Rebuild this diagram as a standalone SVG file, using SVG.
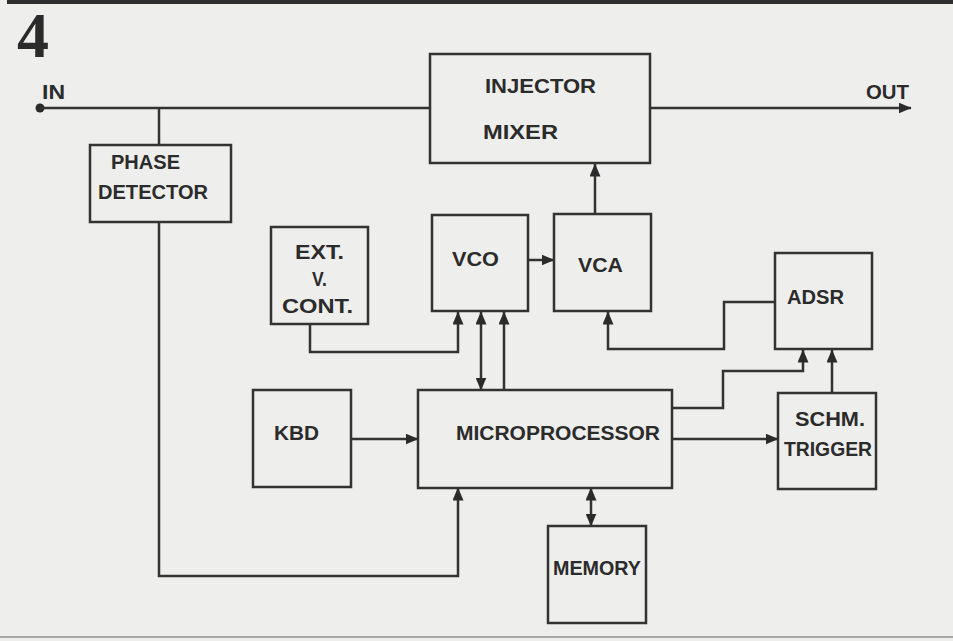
<svg xmlns="http://www.w3.org/2000/svg" width="953" height="641" viewBox="0 0 953 641">
<defs>
<style>
.box{fill:none;stroke:#333;stroke-width:2.5}
.ln{fill:none;stroke:#333;stroke-width:2.5}
.t{font-family:"Liberation Sans","DejaVu Sans",sans-serif;font-weight:bold;font-size:21px;fill:#2b2b2b}
</style>
<marker id="ah" viewBox="0 0 13 11" refX="12.5" refY="5.5" markerWidth="13" markerHeight="11" markerUnits="userSpaceOnUse" orient="auto-start-reverse">
<path d="M0,0 L13,5.5 L0,11 z" fill="#2b2b2b"/>
</marker>
</defs>
<rect width="953" height="641" fill="#eeeeec"/>
<rect x="7" y="0" width="946" height="4" fill="#2e2e2e"/>
<line x1="0" y1="637" x2="953" y2="637" stroke="#a9a9a9" stroke-width="2"/>
<text x="17" y="57" font-family="Liberation Serif,serif" font-weight="bold" font-size="64" fill="#2b2b2b">4</text>

<g id="connectors">
<circle cx="40" cy="108" r="4.5" fill="#2b2b2b"/>
<path class="ln" d="M40,108 H430"/>
<path class="ln" d="M159,108 V145"/>
<path class="ln" d="M159,222 V576 H458 V488" marker-end="url(#ah)"/>
<path class="ln" d="M650,108 H911" marker-end="url(#ah)"/>
<path class="ln" d="M595,214 V164" marker-end="url(#ah)"/>
<path class="ln" d="M528,260 H554" marker-end="url(#ah)"/>
<path class="ln" d="M310,324 V352 H458 V312" marker-end="url(#ah)"/>
<path class="ln" d="M481,312 V390" marker-start="url(#ah)" marker-end="url(#ah)"/>
<path class="ln" d="M504,390 V312" marker-end="url(#ah)"/>
<path class="ln" d="M775,302 H724 V349 H608 V312" marker-end="url(#ah)"/>
<path class="ln" d="M672,408 H723 V371 H803 V350" marker-end="url(#ah)"/>
<path class="ln" d="M832,393 V350" marker-end="url(#ah)"/>
<path class="ln" d="M672,439 H778" marker-end="url(#ah)"/>
<path class="ln" d="M351,439 H418" marker-end="url(#ah)"/>
<path class="ln" d="M591,488 V526" marker-start="url(#ah)" marker-end="url(#ah)"/>
</g>

<g id="in-label"><text class="t" x="42" y="99" textLength="23" lengthAdjust="spacingAndGlyphs" font-size="18">IN</text></g>
<g id="out-label"><text class="t" x="866" y="99" textLength="43" lengthAdjust="spacingAndGlyphs" font-size="18">OUT</text></g>

<g id="phase-detector">
<rect class="box" x="90" y="145" width="141" height="77"/>
<text class="t" x="111" y="169" textLength="69" lengthAdjust="spacingAndGlyphs">PHASE</text>
<text class="t" x="98" y="199" textLength="110" lengthAdjust="spacingAndGlyphs">DETECTOR</text>
</g>

<g id="injector-mixer">
<rect class="box" x="430" y="54" width="220" height="109"/>
<text class="t" x="485" y="93" textLength="111" lengthAdjust="spacingAndGlyphs">INJECTOR</text>
<text class="t" x="483" y="139" textLength="75" lengthAdjust="spacingAndGlyphs">MIXER</text>
</g>

<g id="ext-v-cont">
<rect class="box" x="271" y="227" width="97" height="97"/>
<text class="t" x="295" y="259" textLength="49" lengthAdjust="spacingAndGlyphs">EXT.</text>
<text class="t" x="312" y="286" textLength="15" lengthAdjust="spacingAndGlyphs">V.</text>
<text class="t" x="282" y="313" textLength="71" lengthAdjust="spacingAndGlyphs">CONT.</text>
</g>

<g id="vco">
<rect class="box" x="432" y="215" width="96" height="96"/>
<text class="t" x="452" y="266" textLength="47" lengthAdjust="spacingAndGlyphs">VCO</text>
</g>

<g id="vca">
<rect class="box" x="554" y="214" width="97" height="97"/>
<text class="t" x="578" y="272" textLength="45" lengthAdjust="spacingAndGlyphs">VCA</text>
</g>

<g id="adsr">
<rect class="box" x="775" y="253" width="97" height="96"/>
<text class="t" x="787" y="304" textLength="57" lengthAdjust="spacingAndGlyphs">ADSR</text>
</g>

<g id="schm-trigger">
<rect class="box" x="778" y="393" width="98" height="96"/>
<text class="t" x="795" y="426" textLength="70" lengthAdjust="spacingAndGlyphs">SCHM.</text>
<text class="t" x="784" y="456" textLength="88" lengthAdjust="spacingAndGlyphs">TRIGGER</text>
</g>

<g id="kbd">
<rect class="box" x="253" y="390" width="98" height="97"/>
<text class="t" x="274" y="440" textLength="45" lengthAdjust="spacingAndGlyphs">KBD</text>
</g>

<g id="microprocessor">
<rect class="box" x="418" y="390" width="254" height="98"/>
<text class="t" x="456" y="440" textLength="204" lengthAdjust="spacingAndGlyphs">MICROPROCESSOR</text>
</g>

<g id="memory">
<rect class="box" x="548" y="526" width="98" height="97"/>
<text class="t" x="553" y="575" textLength="88" lengthAdjust="spacingAndGlyphs">MEMORY</text>
</g>
</svg>
